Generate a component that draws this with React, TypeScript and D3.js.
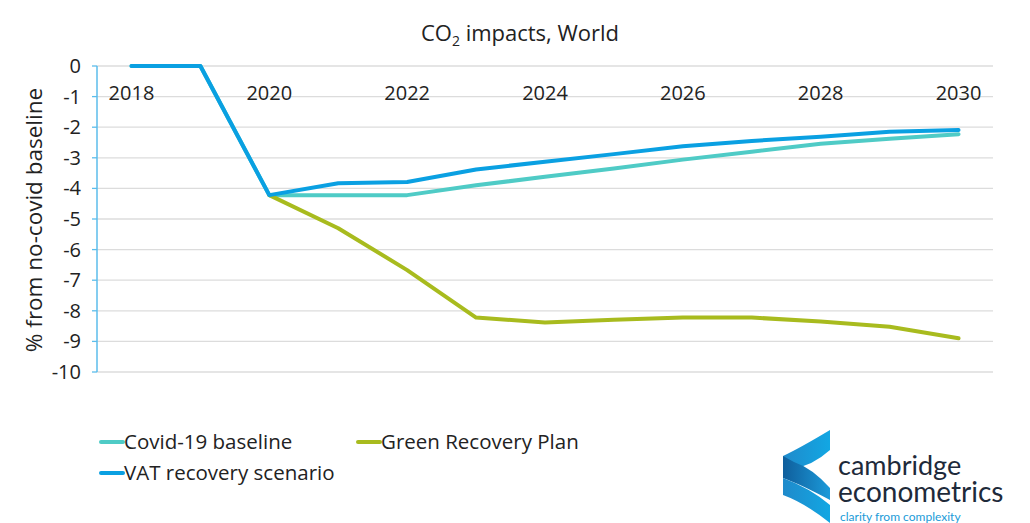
import React from "react";
import * as d3 from "d3";

const years = ["2018","2019","2020","2021","2022","2023","2024","2025","2026","2027","2028","2029","2030"];
const xTickLabels = ["2018","2020","2022","2024","2026","2028","2030"];
const yTicks = [0,-1,-2,-3,-4,-5,-6,-7,-8,-9,-10];
const covidBaseline = [0,0,-4.22,-4.22,-4.22,-3.9,-3.62,-3.35,-3.06,-2.8,-2.54,-2.38,-2.23];
const greenRecovery = [null,null,-4.22,-5.3,-6.67,-8.22,-8.38,-8.29,-8.22,-8.22,-8.35,-8.52,-8.9];
const vatRecovery = [0,0,-4.22,-3.83,-3.79,-3.38,-3.13,-2.88,-2.62,-2.45,-2.31,-2.15,-2.09];
const seriesNames = ["Covid-19 baseline","Green Recovery Plan","VAT recovery scenario"];
const seriesColors = ["#4FCBC6","#A8BB1E","#0AA0E2"];

const FONT = "'Open Sans', 'Noto Sans', sans-serif";

export default function App() {
  const W = 1030, H = 523;
  const x = d3.scalePoint<string>().domain(years).range([97, 993]).padding(0.5);
  const y = d3.scaleLinear().domain([-10, 0]).range([372, 66]);
  const line = d3.line<[string, number | null]>()
    .defined(d => d[1] !== null)
    .x(d => x(d[0]) as number)
    .y(d => y(d[1] as number));
  const mk = (vals: (number | null)[]) => years.map((yr, i) => [yr, vals[i]] as [string, number | null]);
  const series = [
    { name: seriesNames[0], color: seriesColors[0], vals: covidBaseline },
    { name: seriesNames[1], color: seriesColors[1], vals: greenRecovery },
    { name: seriesNames[2], color: seriesColors[2], vals: vatRecovery },
  ];
  const legend = [
    { s: 0, lx: 101, ly: 442 },
    { s: 1, lx: 358, ly: 442 },
    { s: 2, lx: 101, ly: 473 },
  ];
  return (
    <svg width={W} height={H} style={{ position: "absolute", left: 0, top: 0, background: "#fff" }} fontFamily={FONT}>
      <text x={520} y={41} textAnchor="middle" fontSize={22} fill="#222">
        CO<tspan fontSize={14} dy={5}>2</tspan><tspan dy={-5}> impacts, World</tspan>
      </text>
      {yTicks.map(t => (
        <g key={t}>
          <line x1={97} x2={993} y1={y(t)} y2={y(t)} stroke="#dcdcdc" strokeWidth={1.3} />
          <line x1={92} x2={97} y1={y(t)} y2={y(t)} stroke="#5BBDEB" strokeWidth={1.3} />
          <text x={81} y={y(t) + 7} textAnchor="end" fontSize={20} fill="#222">{t}</text>
        </g>
      ))}
      <line x1={97} x2={97} y1={y(0)} y2={y(-10)} stroke="#5BBDEB" strokeWidth={1.5} />
      {xTickLabels.map(l => (
        <text key={l} x={x(l) as number} y={100} textAnchor="middle" fontSize={20} fill="#222">{l}</text>
      ))}
      <text transform={`translate(42,220) rotate(-90)`} textAnchor="middle" fontSize={22.5} fill="#222">% from no-covid baseline</text>
      {series.map(s => (
        <path key={s.name} d={line(mk(s.vals)) || ""} fill="none" stroke={s.color} strokeWidth={4} strokeLinejoin="round" strokeLinecap="round" />
      ))}
      {legend.map(l => (
        <g key={l.s}>
          <line x1={l.lx} x2={l.lx + 22} y1={l.ly} y2={l.ly} stroke={seriesColors[l.s]} strokeWidth={4} strokeLinecap="round" />
          <text x={l.lx + 23} y={l.ly + 7} fontSize={20.5} fill="#222">{seriesNames[l.s]}</text>
        </g>
      ))}
      <defs>
        <linearGradient id="lg1" x1="0" y1="0" x2="1" y2="0">
          <stop offset="0" stopColor="#1F8ACB" />
          <stop offset="1" stopColor="#12A7E3" />
        </linearGradient>
        <linearGradient id="lg2" x1="0" y1="0" x2="1" y2="0">
          <stop offset="0" stopColor="#0F5E9C" />
          <stop offset="1" stopColor="#1C9AD9" />
        </linearGradient>
      </defs>
      <path d="M830,430 L830,450 Q812,466 794,468 L783,470 L783,456 Q800,448 830,430 Z" fill="url(#lg1)" />
      <path d="M783,456 L783,478 Q800,484 830,500 L830,488 Q812,468 794,462 Z" fill="url(#lg2)" />
      <path d="M783,478 L783,495 Q805,503 830,523 L830,505 Q810,488 783,478 Z" fill="url(#lg1)" />
      <text x={838} y={475} fontSize={27} fill="#1E2A3A" fontFamily="Lato, sans-serif">cambridge</text>
      <text x={838} y={502} fontSize={28} fill="#1E2A3A" fontFamily="Lato, sans-serif">econometrics</text>
      <text x={840} y={521} fontSize={12} fill="#1B9BD8" fontFamily="Lato, sans-serif">clarity from complexity</text>
    </svg>
  );
}
